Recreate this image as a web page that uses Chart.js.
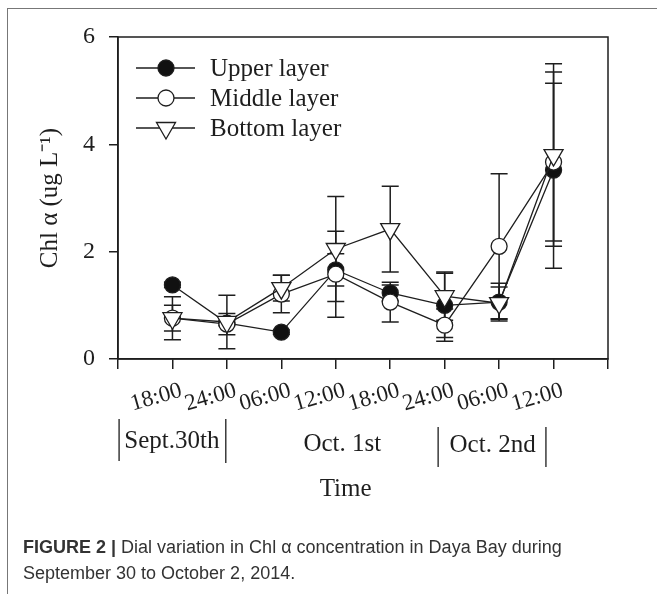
<!DOCTYPE html>
<html>
<head>
<meta charset="utf-8">
<script src="https://cdn.jsdelivr.net/npm/chart.js@4"></script>
<style>
  html, body { margin: 0; padding: 0; background: #fff; }
  #wrap { position: relative; width: 657px; height: 594px; overflow: hidden; }
  #frame { position: absolute; left: 7px; top: 8px; width: 700px; height: 700px;
           border-left: 1.5px solid #777; border-top: 1.5px solid #777; }
  canvas { position: absolute; left: 0; top: 0; }
  .cap { position: absolute; left: 23px; font-family: "Liberation Sans", Arial, sans-serif;
         font-size: 18px; color: #333; white-space: nowrap; }
</style>
</head>
<body>
<div id="wrap">
  <div id="frame"></div>
  <canvas id="chart" width="657" height="594"></canvas>
  <div class="cap" style="top:537px"><b>FIGURE 2 |</b> Dial variation in Chl α concentration in Daya Bay during</div>
  <div class="cap" style="top:563px">September 30 to October 2, 2014.</div>
</div>
<script>
// time of day for each sampling (x positions 1..8)
const timeLabels = ['18:00', '24:00', '06:00', '12:00', '18:00', '24:00', '06:00', '12:00'];
const dayLabels = ['Sept.30th', 'Oct. 1st', 'Oct. 2nd'];

// Chl a, ug/L
const upperLayer  = [1.38, 0.67, 0.50, 1.66, 1.23, 1.00, 1.06, 3.52];
const upperErr    = [0.05, 0.05, 0.04, 0.30, 0.15, 0.60, 0.35, 1.83];
const middleLayer = [0.76, 0.65, 1.21, 1.58, 1.06, 0.63, 2.10, 3.67];
const middleErr   = [0.40, 0.20, 0.35, 0.80, 0.37, 0.30, 1.35, 1.47];
const bottomLayer = [0.76, 0.69, 1.32, 2.05, 2.42, 1.17, 1.04, 3.80];
const bottomErr   = [0.24, 0.50, 0.24, 0.98, 0.80, 0.45, 0.30, 1.70];

const serif = "'Liberation Serif', 'Times New Roman', serif";
const ink = '#1e1e1e';
const toPoints = arr => arr.map((v, i) => ({ x: i + 1, y: v }));

// error bars, drawn under the markers
const errorBars = {
  id: 'errorBars',
  beforeDatasetsDraw(chart) {
    const { ctx, scales: { x, y } } = chart;
    ctx.save();
    ctx.strokeStyle = ink;
    ctx.lineWidth = 1.5;
    chart.data.datasets.forEach(ds => {
      ds.data.forEach((p, i) => {
        const e = ds.err[i];
        const px = x.getPixelForValue(p.x);
        const t = y.getPixelForValue(p.y + e), b = y.getPixelForValue(p.y - e);
        ctx.beginPath();
        ctx.moveTo(px, t); ctx.lineTo(px, b);
        ctx.moveTo(px - 8.5, t); ctx.lineTo(px + 8.5, t);
        ctx.moveTo(px - 8.5, b); ctx.lineTo(px + 8.5, b);
        ctx.stroke();
      });
    });
    ctx.restore();
  }
};

function marker(ctx, style, cx, cy) {
  ctx.beginPath();
  if (style === 'triangle') {
    const r = 11;
    ctx.moveTo(cx - r * 0.866, cy - r * 0.5);
    ctx.lineTo(cx + r * 0.866, cy - r * 0.5);
    ctx.lineTo(cx, cy + r);
    ctx.closePath();
  } else {
    ctx.arc(cx, cy, 8, 0, Math.PI * 2);
  }
  ctx.fill();
  ctx.stroke();
}

// box, legend inside the plot, day row and x title
const extras = {
  id: 'extras',
  afterDraw(chart) {
    const { ctx, chartArea: a, scales: { x } } = chart;
    ctx.save();
    ctx.strokeStyle = ink;
    ctx.lineWidth = 1.5;
    ctx.strokeRect(a.left, a.top, a.right - a.left, a.bottom - a.top);

    // legend
    ctx.font = '25px ' + serif;
    ctx.textBaseline = 'middle';
    ctx.textAlign = 'left';
    chart.data.datasets.forEach((ds, i) => {
      const yy = a.top + 31 + i * 30;
      ctx.lineWidth = 1.3;
      ctx.strokeStyle = ink;
      ctx.beginPath();
      ctx.moveTo(a.left + 18, yy); ctx.lineTo(a.left + 77, yy);
      ctx.stroke();
      ctx.fillStyle = ds.pointBackgroundColor;
      marker(ctx, ds.legendStyle, a.left + 48, yy);
      ctx.fillStyle = ink;
      ctx.fillText(ds.label, a.left + 92, yy + 1);
    });

    // day row
    const rowY = a.bottom + 82;
    ctx.font = '25px ' + serif;
    ctx.textAlign = 'center';
    ctx.fillStyle = ink;
    ctx.fillText(dayLabels[0], x.getPixelForValue(0.99), rowY);
    ctx.fillText(dayLabels[1], x.getPixelForValue(4.12), rowY + 3);
    ctx.fillText(dayLabels[2], x.getPixelForValue(6.88), rowY + 4);
    ctx.lineWidth = 1.3;
    ctx.beginPath();
    [[0.02, -22, 20], [1.98, -22, 22], [5.88, -14, 26], [7.86, -14, 26]].forEach(([v, t, b]) => {
      const px = x.getPixelForValue(v);
      ctx.moveTo(px, rowY + t); ctx.lineTo(px, rowY + b);
    });
    ctx.stroke();

    ctx.fillText('Time', x.getPixelForValue(4.18), a.bottom + 130);
    ctx.restore();
  }
};

new Chart(document.getElementById('chart'), {
  type: 'line',
  data: {
    datasets: [
      {
        label: 'Upper layer', data: toPoints(upperLayer), err: upperErr, order: 2,
        pointStyle: 'circle', legendStyle: 'circle', pointRadius: 8,
        pointBackgroundColor: '#111', pointBorderColor: ink
      },
      {
        label: 'Middle layer', data: toPoints(middleLayer), err: middleErr, order: 1,
        pointStyle: 'circle', legendStyle: 'circle', pointRadius: 8,
        pointBackgroundColor: '#fff', pointBorderColor: ink
      },
      {
        label: 'Bottom layer', data: toPoints(bottomLayer), err: bottomErr, order: 0,
        pointStyle: 'triangle', legendStyle: 'triangle', pointRadius: 11, pointRotation: 180,
        pointBackgroundColor: '#fff', pointBorderColor: ink
      }
    ]
  },
  options: {
    responsive: false,
    animation: false,
    devicePixelRatio: 1,
    layout: { padding: { left: 0, top: 37, right: 49, bottom: 0 } },
    elements: {
      line: { borderColor: ink, borderWidth: 1.3, tension: 0, fill: false },
      point: { borderWidth: 1.3, hoverRadius: 8 }
    },
    plugins: { legend: { display: false }, tooltip: { enabled: false } },
    scales: {
      x: {
        type: 'linear', min: 0, max: 9,
        afterFit: s => { s.height = 235; },
        border: { color: ink, width: 1.5 },
        grid: { drawOnChartArea: false, drawTicks: true, tickLength: 10, color: ink, lineWidth: 1.5 },
        ticks: {
          stepSize: 1, autoSkip: false, minRotation: 16, maxRotation: 16, padding: 8, labelOffset: 9,
          color: ink, font: { family: serif, size: 23 },
          callback: v => timeLabels[v - 1] || ''
        }
      },
      y: {
        min: 0, max: 6,
        afterFit: s => { s.width = 118; },
        border: { color: ink, width: 1.5 },
        grid: { drawOnChartArea: false, drawTicks: true, tickLength: 9, color: ink, lineWidth: 1.5 },
        ticks: { stepSize: 2, padding: 14, color: ink, font: { family: serif, size: 24 } },
        title: {
          display: true, text: 'Chl α (ug L⁻¹)', color: ink,
          font: { family: serif, size: 25 }, padding: { top: 35, bottom: 0 }
        }
      }
    }
  },
  plugins: [errorBars, extras]
});
</script>
</body>
</html>
